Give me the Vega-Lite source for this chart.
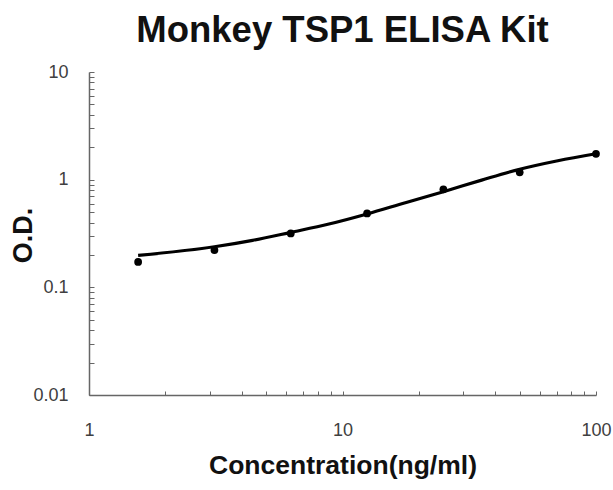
{
  "$schema": "https://vega.github.io/schema/vega-lite/v6.json",
  "width": 507,
  "height": 323,
  "autosize": "none",
  "padding": {"left": 89, "top": 72, "right": 17, "bottom": 95},
  "background": "white",
  "title": {
    "text": "Monkey TSP1 ELISA Kit",
    "font": "Liberation Sans",
    "fontSize": 36.5,
    "fontWeight": "bold",
    "color": "#111111",
    "anchor": "middle",
    "offset": 14
  },
  "datasets": {
    "points": [
      {"conc": 1.5625, "od": 0.172},
      {"conc": 3.125, "od": 0.222},
      {"conc": 6.25, "od": 0.317},
      {"conc": 12.5, "od": 0.486},
      {"conc": 25, "od": 0.813},
      {"conc": 50, "od": 1.17},
      {"conc": 100, "od": 1.74}
    ],
    "curve": [
      {"conc": 1.5625, "od": 0.198},
      {"conc": 3.125, "od": 0.238},
      {"conc": 4.42, "od": 0.273},
      {"conc": 6.25, "od": 0.324},
      {"conc": 8.84, "od": 0.387},
      {"conc": 12.5, "od": 0.48},
      {"conc": 17.7, "od": 0.611},
      {"conc": 25, "od": 0.773},
      {"conc": 35.4, "od": 0.99},
      {"conc": 50, "od": 1.25},
      {"conc": 70.7, "od": 1.5},
      {"conc": 100, "od": 1.74}
    ]
  },
  "layer": [
    {
      "data": {"name": "curve"},
      "mark": {"type": "line", "color": "#000000", "strokeWidth": 3.2, "interpolate": "monotone"},
      "encoding": {
        "x": {
          "field": "conc", "type": "quantitative",
          "scale": {"type": "log", "domain": [1, 100], "nice": false},
          "axis": {
            "title": "Concentration(ng/ml)",
            "values": [1, 2, 3, 4, 5, 6, 7, 8, 9, 10, 20, 30, 40, 50, 60, 70, 80, 90, 100],
            "labelExpr": "indexof([1,10,100], datum.value) >= 0 ? toString(datum.value) : ''",
            "tickSize": -4,
            "labelPadding": 30,
            "titlePadding": 13,
            "titleFontSize": 26.5
          }
        },
        "y": {
          "field": "od", "type": "quantitative",
          "scale": {"type": "log", "domain": [0.01, 10], "nice": false},
          "axis": {
            "title": "O.D.",
            "values": [0.01, 0.02, 0.03, 0.04, 0.05, 0.06, 0.07, 0.08, 0.09, 0.1, 0.2, 0.3, 0.4, 0.5, 0.6, 0.7, 0.8, 0.9, 1, 2, 3, 4, 5, 6, 7, 8, 9, 10],
            "labelExpr": "indexof([0.01,0.1,1,10], datum.value) >= 0 ? toString(datum.value) : ''",
            "tickSize": -5,
            "labelPadding": 26,
            "titleFontSize": 27,
            "titleX": -66,
            "titleY": 163,
            "titleAlign": "center",
            "titleBaseline": "middle",
            "titleAngle": -90
          }
        }
      }
    },
    {
      "data": {"name": "points"},
      "mark": {"type": "point", "filled": true, "color": "#000000", "size": 60, "opacity": 1},
      "encoding": {
        "x": {"field": "conc", "type": "quantitative", "scale": {"type": "log", "domain": [1, 100], "nice": false}},
        "y": {"field": "od", "type": "quantitative", "scale": {"type": "log", "domain": [0.01, 10], "nice": false}}
      }
    }
  ],
  "config": {
    "view": {"stroke": null},
    "font": "Liberation Sans",
    "axis": {
      "grid": false,
      "domainColor": "#666666",
      "domainWidth": 1.5,
      "tickColor": "#666666",
      "tickWidth": 1,
      "labelFont": "Liberation Sans",
      "labelFontSize": 18,
      "labelColor": "#404040",
      "labelOverlap": false,
      "labelFlush": false,
      "titleFont": "Liberation Sans",
      "titleFontWeight": "bold",
      "titleColor": "#111111"
    }
  }
}
